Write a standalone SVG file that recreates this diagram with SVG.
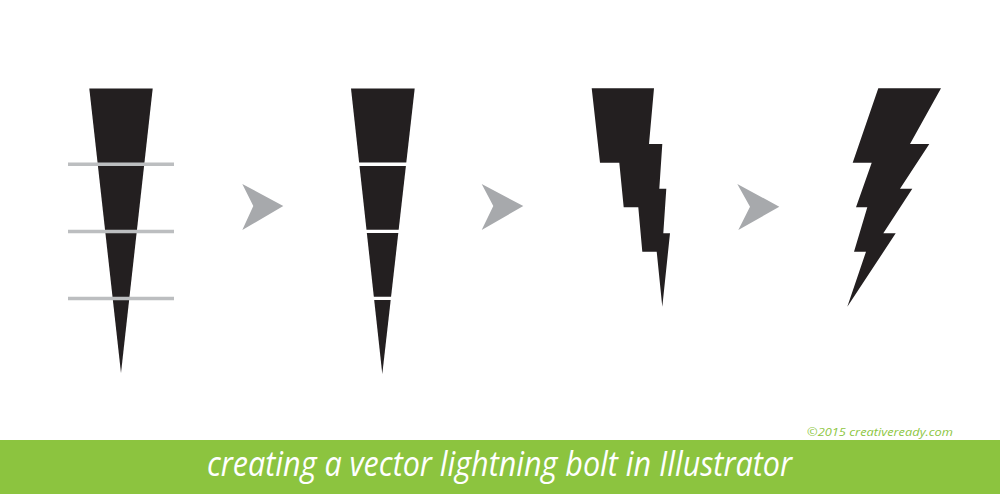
<svg xmlns="http://www.w3.org/2000/svg" width="1000" height="494" viewBox="0 0 1000 494">
<style>
.bolt{fill:#231f20}
.arrow{fill:#a7a9ac}
.guide{stroke:#bcbec0;stroke-width:3.4}
.gap{stroke:#ffffff;stroke-width:3.4}
.title{font-family:"Open Sans","Liberation Sans",sans-serif;font-style:italic;fill:#ffffff;font-size:34px}
.credit{font-family:"Open Sans","Liberation Sans",sans-serif;font-style:italic;fill:#8dc63f;font-size:11.5px}
</style>
<rect x="0" y="0" width="1000" height="494" fill="#ffffff"/>
<g id="step1">
<polygon class="bolt" points="89.3,88.5 152.7,88.5 121,373"/>
<line class="guide" x1="68" y1="164.3" x2="174" y2="164.3"/>
<line class="guide" x1="68" y1="231.5" x2="174" y2="231.5"/>
<line class="guide" x1="68" y1="298.5" x2="174" y2="298.5"/>
</g>
<g id="step2">
<polygon class="bolt" points="351,88.5 414.7,88.5 382.3,374"/>
<line class="gap" x1="345" y1="164.3" x2="420" y2="164.3"/>
<line class="gap" x1="345" y1="231.4" x2="420" y2="231.4"/>
<line class="gap" x1="345" y1="298.4" x2="420" y2="298.4"/>
</g>
<g id="step3">
<polygon class="bolt" points="591.7,88.3 654,88.3 649,144 662.3,144 659.3,188.7 666.3,188.7 663.3,233.3 670,233.3 662.3,306.7 656.7,251.7 642.3,251.7 638.3,207.3 623.7,207.3 619.3,162.7 600,162.7"/>
</g>
<g id="step4">
<polygon class="bolt" points="878.3,88.3 941,88.3 910,144 929.3,144 900,188.7 912.3,188.7 883.3,233.3 895.7,233.3 847.3,306.7 866,251.7 854,251.7 867.3,207.3 856,207.3 871.7,162.7 852.7,162.7"/>
</g>
<g id="connectors">
<polygon class="arrow" points="242.3,184 283.3,206 242.3,230 253.3,206"/>
<polygon class="arrow" points="481.7,184 523.3,206 481.7,230 493.3,206"/>
<polygon class="arrow" points="737.3,184 779.3,206.7 738.3,230 750,206.7"/>
</g>
<g id="credit">
<text class="credit" x="807" y="436" textLength="146" lengthAdjust="spacingAndGlyphs">©2015 creativeready.com</text>
</g>
<g id="banner">
<rect x="0" y="440" width="1000" height="54" fill="#8cc43f"/>
<text class="title" x="207" y="476" textLength="585" lengthAdjust="spacingAndGlyphs">creating a vector lightning bolt in Illustrator</text>
</g>
</svg>
